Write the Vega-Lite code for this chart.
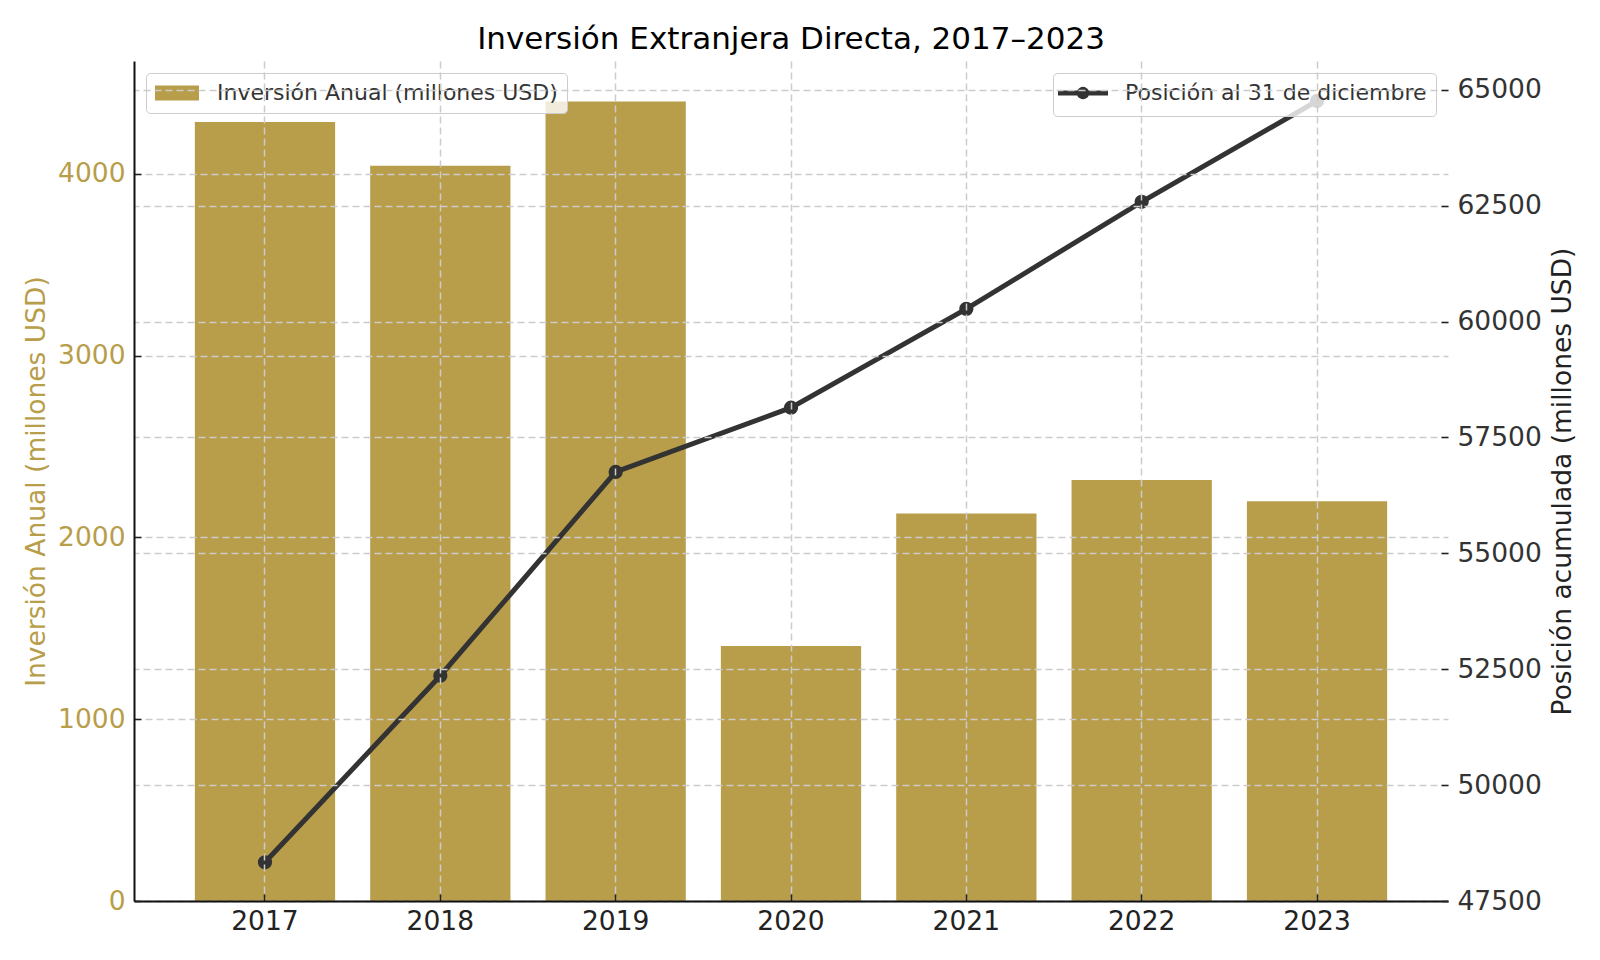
{
  "$schema": "https://vega.github.io/schema/vega-lite/v6.json",
  "width": 1314,
  "height": 840,
  "autosize": {"type": "none"},
  "padding": {"left": 134, "top": 61, "right": 152, "bottom": 59},
  "background": "white",
  "config": {"view": {"stroke": null}, "font": "DejaVu Sans"},
  "title": {"text": "Inversión Extranjera Directa, 2017–2023", "font": "DejaVu Sans", "fontSize": 31, "fontWeight": "normal", "color": "#000000", "offset": 5},
  "data": {"values": [
    {"year": "2017", "anual": 4285, "posicion": 48335},
    {"year": "2018", "anual": 4044, "posicion": 52359},
    {"year": "2019", "anual": 4397, "posicion": 56756},
    {"year": "2020", "anual": 1402, "posicion": 58141},
    {"year": "2021", "anual": 2131, "posicion": 60273},
    {"year": "2022", "anual": 2316, "posicion": 62582},
    {"year": "2023", "anual": 2199, "posicion": 64758}
  ]},
  "layer": [
    {
      "mark": {"type": "bar", "color": "#b89d4a"},
      "encoding": {
        "x": {"field": "year", "type": "ordinal", "scale": {"paddingInner": 0.2, "paddingOuter": 0.347},
          "axis": {"title": null, "labelAngle": 0, "labelFontSize": 26.5, "labelColor": "#222222", "labelPadding": 14,
            "tickSize": -7, "tickColor": "#222222", "tickWidth": 1.5, "bandPosition": 0.5,
            "domainColor": "#111111", "domainWidth": 2,
            "grid": true, "gridDash": [7, 4], "gridColor": "#cccccc", "gridWidth": 1.5, "zindex": 1}},
        "y": {"field": "anual", "type": "quantitative", "scale": {"domain": [0, 4620], "nice": false},
          "axis": {"orient": "left", "title": "Inversión Anual (millones USD)", "titleColor": "#b89d4a", "titleFontSize": 26.5, "titleFontWeight": "normal", "titlePadding": 7,
            "labelColor": "#b89d4a", "labelFontSize": 26.5, "labelPadding": 16, "labelFlush": false, "labelOverlap": false, "format": "d",
            "values": [0, 1000, 2000, 3000, 4000],
            "tickSize": -7, "tickColor": "#222222", "tickWidth": 1.5,
            "domainColor": "#111111", "domainWidth": 2,
            "grid": true, "gridDash": [7, 4], "gridColor": "#cccccc", "gridWidth": 1.5, "zindex": 1}},
        "color": {"datum": "Inversión Anual (millones USD)", "scale": {"range": ["#b89d4a"]},
          "legend": {"title": null, "orient": "top-left", "offset": 12, "padding": 9,
            "fillColor": "rgba(255,255,255,0.8)", "strokeColor": "#cccccc", "cornerRadius": 4,
            "labelFontSize": 22, "labelColor": "#333333", "labelLimit": 600, "labelOffset": 40,
            "symbolType": "M-1,-0.68H3V0.68H-1Z", "symbolSize": 484, "symbolStrokeWidth": 0, "symbolOpacity": 1}}
      }
    },
    {
      "mark": {"type": "line", "color": "#333333", "strokeWidth": 5, "point": {"filled": true, "size": 150, "color": "#333333"}},
      "encoding": {
        "x": {"field": "year", "type": "ordinal"},
        "y": {"field": "posicion", "type": "quantitative", "scale": {"domain": [47500, 65620], "nice": false, "zero": false},
          "axis": {"orient": "right", "title": "Posición acumulada (millones USD)", "titleColor": "#222222", "titleFontSize": 26.5, "titleFontWeight": "normal", "titlePadding": 8, "titleAngle": 270, "titleBaseline": "top",
            "labelColor": "#333333", "labelFontSize": 26.5, "labelPadding": 16, "labelFlush": false, "labelOverlap": false, "format": "d",
            "values": [47500, 50000, 52500, 55000, 57500, 60000, 62500, 65000],
            "domain": false, "tickSize": -7, "tickColor": "#222222", "tickWidth": 1.5,
            "grid": true, "gridDash": [7, 4], "gridColor": "#cccccc", "gridWidth": 1.5, "zindex": 1}},
        "stroke": {"datum": "Posición al 31 de diciembre", "scale": {"range": ["#333333"]},
          "legend": {"title": null, "orient": "top-right", "offset": 12, "padding": 9,
            "fillColor": "rgba(255,255,255,0.8)", "strokeColor": "#cccccc", "cornerRadius": 4,
            "labelFontSize": 22, "labelColor": "#333333", "labelLimit": 600, "labelOffset": 41,
            "symbolType": "M-1.765,0H4.118M1.588,0A0.412,0.412 0 1,1 0.765,0A0.412,0.412 0 1,1 1.588,0Z", "symbolSize": 289, "symbolStrokeWidth": 5, "symbolFillColor": "#333333", "symbolOpacity": 1}}
      }
    }
  ],
  "resolve": {"scale": {"y": "independent", "color": "independent", "stroke": "independent"}}
}
